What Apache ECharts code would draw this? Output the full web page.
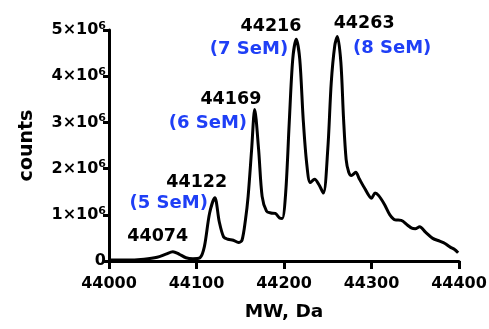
<!DOCTYPE html>
<html>
<head>
<meta charset="utf-8">
<script src="https://cdn.jsdelivr.net/npm/echarts@6/dist/echarts.min.js"></script>
<style>
  html, body { margin: 0; padding: 0; background: #fff; }
  #chart { width: 489px; height: 329px; }
</style>
</head>
<body>
<div id="chart"></div>
<script>
// spectrum trace (counts in units of 1e6)
const mw = [
  44000, 44020, 44040, 44055, 44065, 44073, 44080, 44088, 44096, 44104,
  44109, 44115, 44121, 44126, 44131, 44136, 44142, 44148, 44152, 44156,
  44159, 44163, 44166.5, 44171, 44175, 44180, 44185, 44190, 44195, 44198,
  44202, 44206, 44210, 44214, 44218, 44222, 44226, 44230, 44235, 44240,
  44245, 44250, 44254, 44258, 44261, 44265, 44268, 44271, 44274, 44277,
  44282, 44286, 44292, 44300, 44304, 44308, 44315, 44321, 44327, 44334,
  44341, 44346, 44350, 44355, 44362, 44370, 44378, 44384, 44390, 44395,
  44399
];
const counts = [
  0.02, 0.02, 0.04, 0.08, 0.15, 0.20, 0.15, 0.07, 0.05, 0.07,
  0.31, 1.04, 1.37, 0.85, 0.52, 0.47, 0.45, 0.40, 0.45, 0.90,
  1.40, 2.41, 3.28, 2.41, 1.40, 1.08, 1.04, 1.03, 0.93, 0.92,
  1.50, 3.00, 4.37, 4.80, 4.37, 3.05, 2.10, 1.70, 1.77, 1.65,
  1.47, 2.41, 3.86, 4.66, 4.86, 4.30, 3.10, 2.20, 1.92, 1.85,
  1.92, 1.78, 1.58, 1.36, 1.47, 1.42, 1.22, 1.00, 0.89, 0.88,
  0.78, 0.71, 0.70, 0.74, 0.62, 0.49, 0.43, 0.38, 0.30, 0.25,
  0.18
];

// labelled peaks
const peakMW = [44074, 44122, 44169, 44216, 44263];
const peakCounts = [0.20, 1.37, 3.28, 4.80, 4.86];
const seLabels = ['', '(5 SeM)', '(6 SeM)', '(7 SeM)', '(8 SeM)'];

const xTicks = [44000, 44100, 44200, 44300, 44400];
const yTicks = [0, 1, 2, 3, 4, 5];

// label offsets in px: [number, SeM]
const numOffset = [[-16, -15], [-19, -15], [-26, -10], [-27, -13], [25, -13]];
const seOffset = [[0, 0], [-47, 6], [-49, 14], [-49, 10], [53, 12]];

const FONT = 'DejaVu Sans, Verdana, sans-serif';
const BLUE = '#1f3ff6';

const myChart = echarts.init(document.getElementById('chart'), null, {renderer: 'canvas'});

const marks = [];
peakMW.forEach((m, i) => {
  marks.push({
    coord: [m, peakCounts[i] * 1e6],
    label: {
      show: true,
      position: 'inside',
      formatter: String(m),
      offset: numOffset[i],
      color: '#000',
      fontFamily: FONT,
      fontWeight: 'bold',
      fontSize: 17.5
    }
  });
  if (seLabels[i]) {
    marks.push({
      coord: [m, peakCounts[i] * 1e6],
      label: {
        show: true,
        position: 'inside',
        formatter: seLabels[i],
        offset: seOffset[i],
        color: BLUE,
        fontFamily: FONT,
        fontWeight: 'bold',
        fontSize: 18
      }
    });
  }
});

const axisText = {
  color: '#000',
  fontFamily: FONT,
  fontWeight: 'bold',
  fontSize: 16
};

const option = {
  animation: false,
  grid: {
    left: 109,
    right: 30,
    top: 30,
    bottom: 68,
    containLabel: false,
    outerBoundsMode: 'none'
  },
  xAxis: {
    type: 'value',
    min: xTicks[0],
    max: xTicks[xTicks.length - 1],
    interval: 100,
    name: 'MW, Da',
    nameLocation: 'middle',
    nameGap: 42,
    nameTextStyle: {color: '#000', fontFamily: FONT, fontWeight: 'bold', fontSize: 18.5},
    axisLine: {lineStyle: {color: '#000', width: 3}},
    axisTick: {length: 8, lineStyle: {color: '#000', width: 3}},
    axisLabel: Object.assign({margin: 15, formatter: v => String(v)}, axisText),
    splitLine: {show: false}
  },
  yAxis: {
    type: 'value',
    min: 0,
    max: yTicks[yTicks.length - 1] * 1e6,
    interval: 1e6,
    name: 'counts',
    nameLocation: 'middle',
    nameGap: 72,
    nameTextStyle: {color: '#000', fontFamily: FONT, fontWeight: 'bold', fontSize: 19},
    axisLine: {show: true, lineStyle: {color: '#000', width: 3}},
    axisTick: {show: true, length: 6, lineStyle: {color: '#000', width: 3}},
    axisLabel: Object.assign({
      margin: 3,
      formatter: v => v === 0 ? '0' : '{a|' + (v / 1e6) + '×10}{b|6}',
      rich: {
        a: {color: '#000', fontFamily: FONT, fontWeight: 'bold', fontSize: 16},
        b: {color: '#000', fontFamily: FONT, fontWeight: 'bold', fontSize: 11, padding: [0, 0, 8, 0]}
      }
    }, axisText),
    splitLine: {show: false}
  },
  series: [
    {
      name: 'counts',
      type: 'line',
      data: mw.map((m, i) => [m, counts[i] * 1e6]),
      smooth: 0.3,
      showSymbol: false,
      lineStyle: {color: '#000', width: 3},
      markPoint: {
        symbol: 'circle',
        symbolSize: 0,
        itemStyle: {color: 'rgba(0,0,0,0)'},
        data: marks
      }
    }
  ]
};

option && myChart.setOption(option);
</script>
</body>
</html>
